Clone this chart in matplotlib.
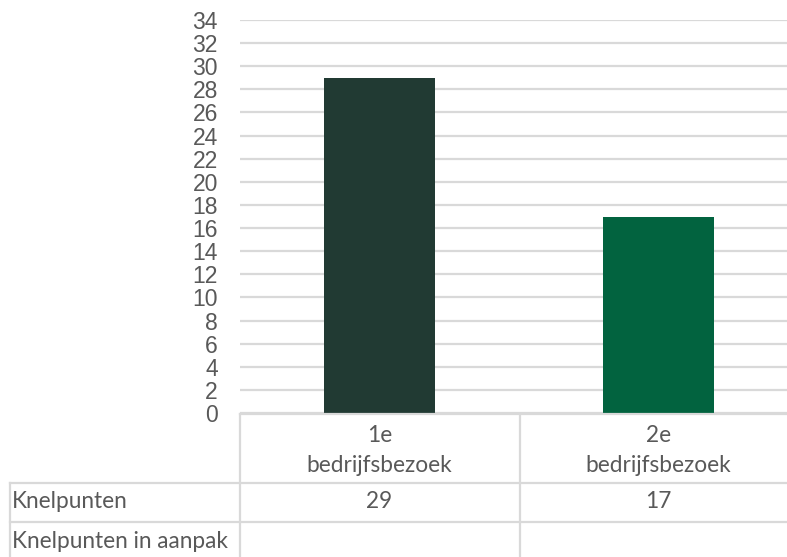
import matplotlib.pyplot as plt
import matplotlib.transforms as mtransforms
from matplotlib.lines import Line2D

# data
categories = ["1e\nbedrijfsbezoek", "2e\nbedrijfsbezoek"]
knelpunten = [29, 17]
row_labels = ["Knelpunten", "Knelpunten in aanpak"]
bar_colors = ["#213A33", "#02633F"]
y_ticks = list(range(0, 35, 2))

W, H = 787, 557
fig = plt.figure(figsize=(W / 100, H / 100), dpi=100)

# plot area in pixels
left, right, top, bottom = 240, 798, 20, 413
ax = fig.add_axes([left / W, 1 - bottom / H, (right - left) / W, (bottom - top) / H])

x = range(len(categories))
ax.bar(x, knelpunten, width=0.4, color=bar_colors, zorder=3)
ax.set_xlim(-0.5, len(categories) - 0.5)
ax.set_ylim(0, 34)
ax.set_yticks(y_ticks)
ax.set_yticklabels([str(t) for t in y_ticks], fontsize=16.5, color="#595959",
                   family="Liberation Sans")
ax.tick_params(axis="y", length=0, pad=16)
ax.tick_params(axis="x", length=0, labelbottom=False)
ax.grid(axis="y", color="#D9D9D9", linewidth=1.6, zorder=0)
for s in ax.spines.values():
    s.set_visible(False)

grid_c = "#D9D9D9"
lw = 1.6
txt_c = "#595959"
tfont = dict(family="Lato", fontsize=16.3, color=txt_c)

def hline(y, x0, x1):
    fig.add_artist(Line2D([x0 / W, x1 / W], [1 - y / H, 1 - y / H],
                          color=grid_c, linewidth=lw, transform=fig.transFigure))

def vline(xp, y0, y1):
    fig.add_artist(Line2D([xp / W, xp / W], [1 - y0 / H, 1 - y1 / H],
                          color=grid_c, linewidth=lw, transform=fig.transFigure))

# data table below the axis
hline(414, left, W)
hline(483, 10, W)
hline(522, 10, W)
vline(10, 483, H)
vline(left, 414, H)
vline(519.5, 414, H)

trans = mtransforms.blended_transform_factory(ax.transData, fig.transFigure)
for i, cat in enumerate(categories):
    first, second = cat.split("\n")
    ax.text(i, 1 - 436 / H, first, transform=trans, ha="center", va="center", **tfont)
    ax.text(i, 1 - 465 / H, second, transform=trans, ha="center", va="center", **tfont)
    ax.text(i, 1 - 502 / H, str(knelpunten[i]), transform=trans, ha="center",
            va="center", **tfont)

fig.text(12 / W, 1 - 502 / H, row_labels[0], ha="left", va="center", **tfont)
fig.text(12 / W, 1 - 542 / H, row_labels[1], ha="left", va="center", **tfont)

fig.savefig("out.png", dpi=100)
